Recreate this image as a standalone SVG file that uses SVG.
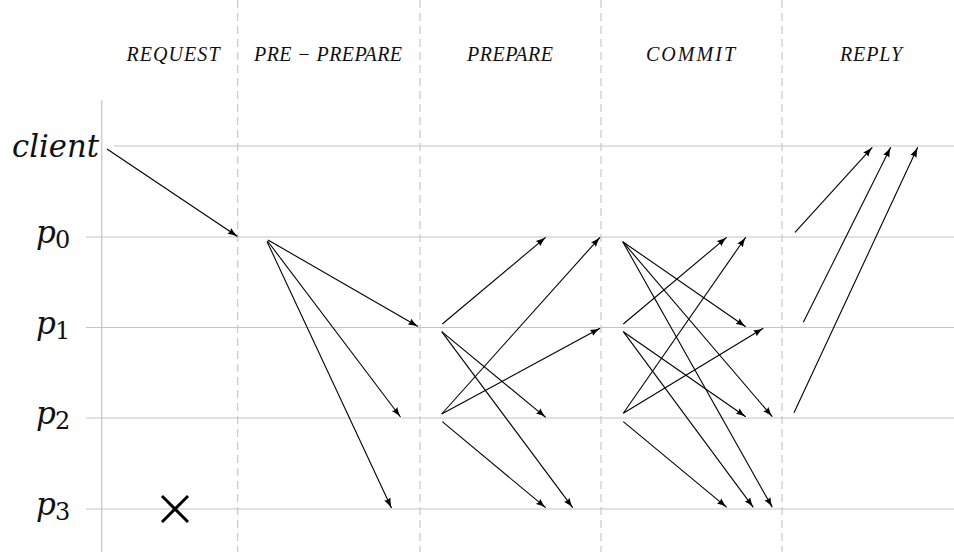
<svg xmlns="http://www.w3.org/2000/svg" width="954" height="552" viewBox="0 0 954 552">
<style>
.bg{fill:#ffffff}
.lane{stroke:#c4c4c4;stroke-width:1.2;fill:none}
.axis{stroke:#cfcfcf;stroke-width:1.5;fill:none}
.phase{stroke:#c8c8c8;stroke-width:1.2;stroke-dasharray:8 5;fill:none}
.hdr{font-family:"Liberation Serif","DejaVu Serif",serif;font-style:italic;font-size:20px;fill:#111;text-anchor:middle}
.lbl{font-family:"DejaVu Serif","Liberation Serif",serif;font-style:italic;font-size:31px;fill:#111}
.sub{font-style:normal;font-size:24px}
.msg{stroke:#000;stroke-width:1.1;fill:none;marker-end:url(#ah)}
.cross{stroke:#000;stroke-width:3;fill:none}
</style>
<defs>
<marker id="ah" markerUnits="userSpaceOnUse" viewBox="0 0 10 8" refX="10" refY="4" markerWidth="10" markerHeight="8" orient="auto">
<path d="M0,0.6 Q5,3 10,4 Q5,5 0,7.4 Q2,4 0,0.6 Z" fill="#000"/>
</marker>
</defs>
<rect class="bg" x="0" y="0" width="954" height="552"/>

<g id="grid">
<line class="axis" x1="101.7" y1="100" x2="101.7" y2="552"/>
<line class="phase" x1="237.7" y1="0" x2="237.7" y2="552"/>
<line class="phase" x1="420" y1="0" x2="420" y2="552"/>
<line class="phase" x1="601" y1="0" x2="601" y2="552"/>
<line class="phase" x1="782" y1="0" x2="782" y2="552"/>
</g>

<g id="headers">
<text class="hdr" x="173" y="61" textLength="93" lengthAdjust="spacing">REQUEST</text>
<text class="hdr" x="328" y="61" textLength="148" lengthAdjust="spacing">PRE − PREPARE</text>
<text class="hdr" x="510" y="61" textLength="86" lengthAdjust="spacing">PREPARE</text>
<text class="hdr" x="690.5" y="61" textLength="89" lengthAdjust="spacing">COMMIT</text>
<text class="hdr" x="871" y="61" textLength="62" lengthAdjust="spacing">REPLY</text>
</g>

<g id="client">
<line class="lane" x1="114" y1="146" x2="954" y2="146"/>
<text class="lbl" x="12" y="157" textLength="87" lengthAdjust="spacingAndGlyphs">client</text>
</g>
<g id="p0">
<line class="lane" x1="86" y1="237" x2="954" y2="237"/>
<text class="lbl" x="36" y="243">p<tspan class="sub" x="55" y="248">0</tspan></text>
</g>
<g id="p1">
<line class="lane" x1="86" y1="327.5" x2="954" y2="327.5"/>
<text class="lbl" x="36" y="333.5">p<tspan class="sub" x="55" y="338.5">1</tspan></text>
</g>
<g id="p2">
<line class="lane" x1="86" y1="418" x2="954" y2="418"/>
<text class="lbl" x="36" y="424">p<tspan class="sub" x="55" y="429">2</tspan></text>
</g>
<g id="p3">
<line class="lane" x1="86" y1="509" x2="954" y2="509"/>
<text class="lbl" x="36" y="515">p<tspan class="sub" x="55" y="520">3</tspan></text>
<g id="p3-failed">
<line class="cross" x1="162" y1="496" x2="188" y2="522"/>
<line class="cross" x1="188" y1="496" x2="162" y2="522"/>
</g>
</g>

<g id="connectors">
<!-- request -->
<line class="msg" x1="107" y1="149" x2="237.5" y2="236.5"/>
<!-- pre-prepare -->
<line class="msg" x1="268" y1="240" x2="418" y2="326.5"/>
<line class="msg" x1="267.5" y1="241" x2="400.5" y2="417"/>
<line class="msg" x1="267" y1="241.5" x2="391.5" y2="508"/>
<!-- prepare -->
<line class="msg" x1="442.3" y1="324" x2="545.7" y2="237.3"/>
<line class="msg" x1="441.7" y1="331.7" x2="545.7" y2="417.3"/>
<line class="msg" x1="441.7" y1="331.7" x2="572.7" y2="507.7"/>
<line class="msg" x1="441.7" y1="414" x2="600" y2="237.3"/>
<line class="msg" x1="441.7" y1="414" x2="600" y2="328.3"/>
<line class="msg" x1="442.3" y1="421.7" x2="545.7" y2="507.7"/>
<!-- commit -->
<line class="msg" x1="622.7" y1="241.7" x2="745.7" y2="326.7"/>
<line class="msg" x1="622.7" y1="241.7" x2="772.3" y2="416.7"/>
<line class="msg" x1="622.7" y1="241.7" x2="772.3" y2="507.3"/>
<line class="msg" x1="623.3" y1="324" x2="726.7" y2="237.3"/>
<line class="msg" x1="623.3" y1="331.7" x2="745.7" y2="416.7"/>
<line class="msg" x1="623.3" y1="331.7" x2="753.3" y2="507.3"/>
<line class="msg" x1="623.3" y1="413.3" x2="745.7" y2="237.3"/>
<line class="msg" x1="623.3" y1="413.3" x2="763.3" y2="328.3"/>
<line class="msg" x1="623.3" y1="421.7" x2="726.7" y2="507.3"/>
<!-- reply -->
<line class="msg" x1="795" y1="232.3" x2="872.3" y2="147.3"/>
<line class="msg" x1="803.3" y1="322.3" x2="890.7" y2="147.3"/>
<line class="msg" x1="794" y1="412.7" x2="917.7" y2="147.3"/>
</g>
</svg>
